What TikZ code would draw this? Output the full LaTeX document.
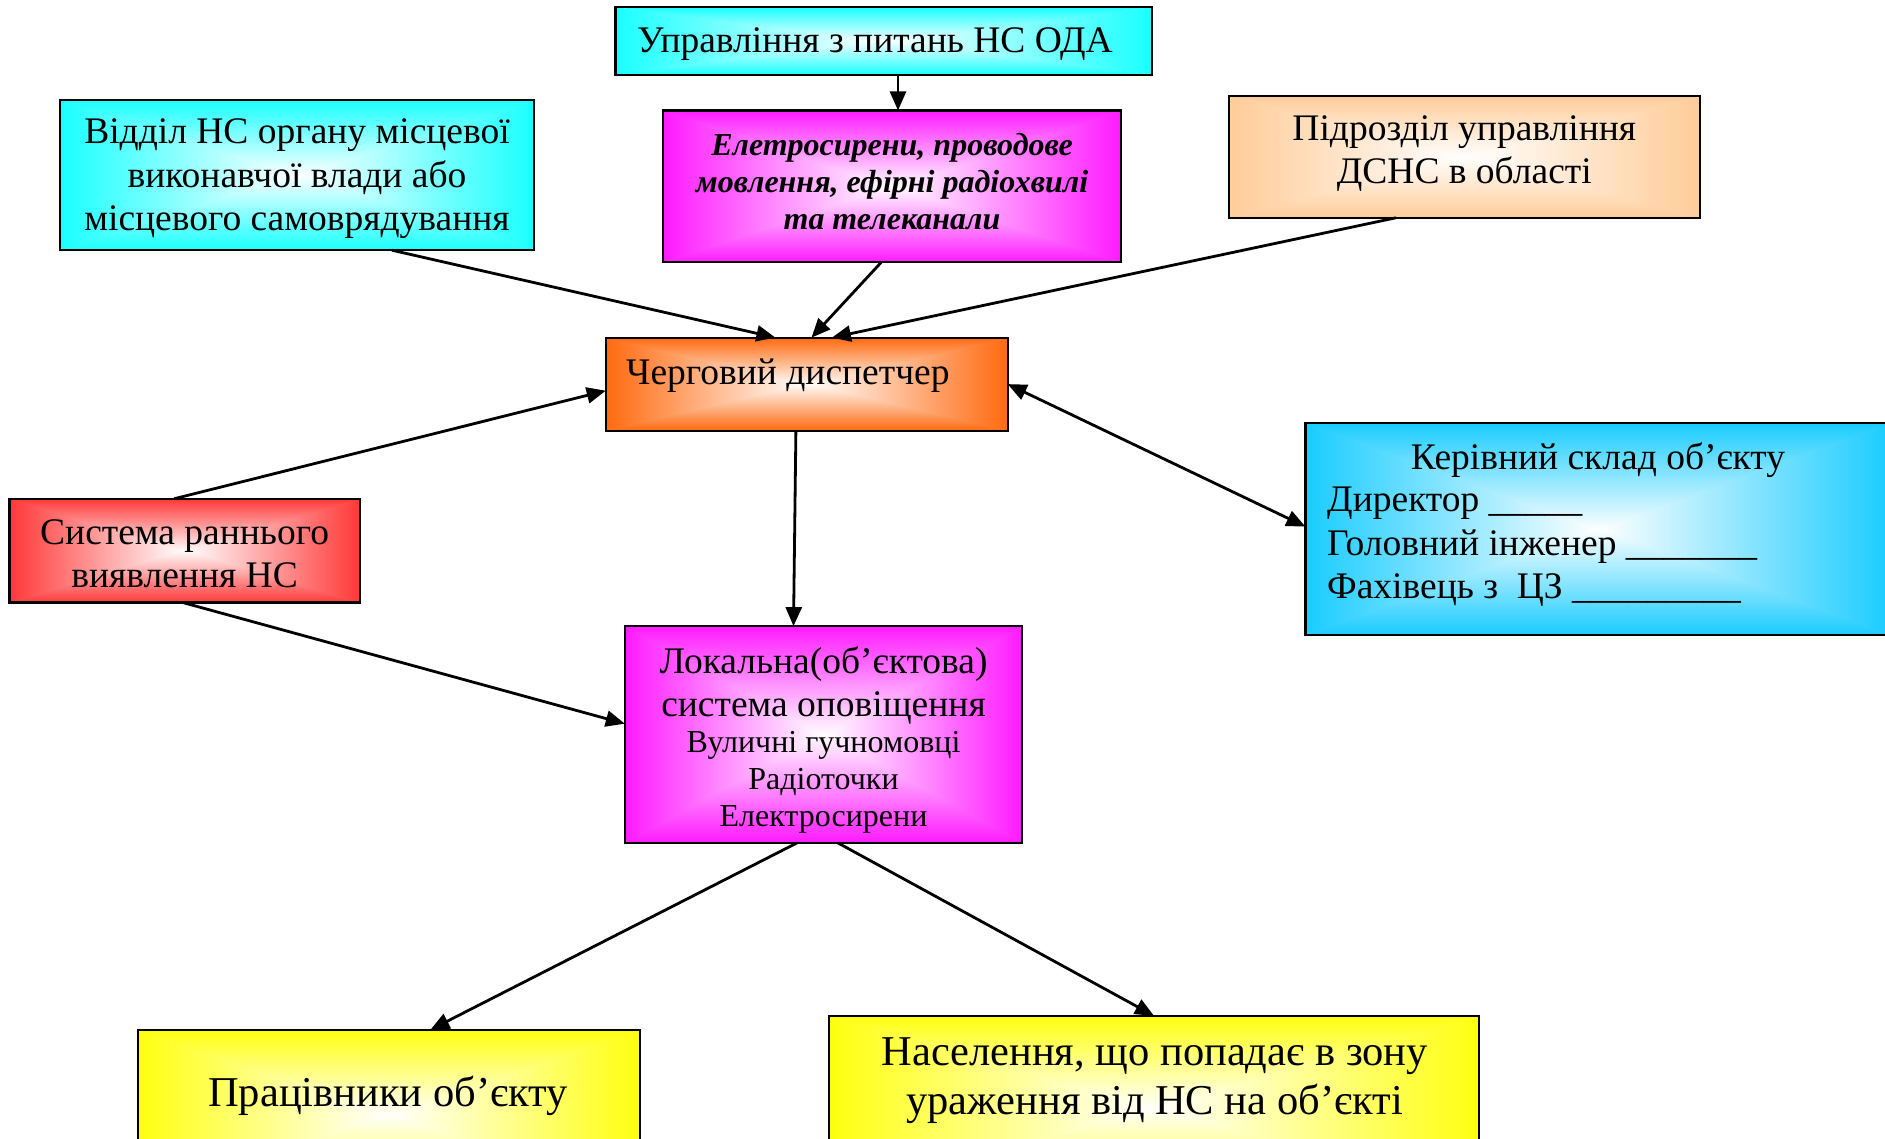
\documentclass[tikz,border=0pt]{standalone}
\usepackage{fontspec}
\setmainfont{Liberation Serif}
\usetikzlibrary{arrows.meta,calc}
\definecolor{cCyan}{HTML}{1AFFFF}
\definecolor{cMag}{HTML}{FF1AFF}
\definecolor{cPeach}{HTML}{FFCC99}
\definecolor{cOrange}{HTML}{FF6A10}
\definecolor{cRed}{HTML}{FF3838}
\definecolor{cSky}{HTML}{1ACCFF}
\definecolor{cYel}{HTML}{FFFF10}
% name, x, y(down), w, h, colour
\newcommand{\rbox}[6]{%
  \node[boxshape, minimum width=#4pt, minimum height=#5pt] (#1) at (#2,-#3) {};
  \shade[left color=#6, right color=white] (#1.center) -- (#1.north west) -- (#1.south west) -- cycle;
  \shade[left color=white, right color=#6] (#1.center) -- (#1.north east) -- (#1.south east) -- cycle;
  \shade[top color=#6, bottom color=white] ([yshift=-1.5pt]#1.center) -- ([xshift=-0.8pt]#1.north west) -- ([xshift=0.8pt]#1.north east) -- cycle;
  \shade[top color=white, bottom color=#6] ([yshift=1.5pt]#1.center) -- ([xshift=-0.8pt]#1.south west) -- ([xshift=0.8pt]#1.south east) -- cycle;
  \draw[line width=2.2pt] (#1.north west) rectangle (#1.south east);
}
\tikzset{
  boxshape/.style={rectangle, inner sep=0pt},
  txt/.style={inner sep=0pt, align=center, font=\fontsize{37.5}{43.5}\selectfont},
  smalltxt/.style={inner sep=0pt, align=center, font=\fontsize{32}{37}\selectfont},
  bigtxt/.style={inner sep=0pt, align=center, font=\fontsize{42.5}{49}\selectfont},
  arr/.style={line width=2.8pt, -{Triangle[length=19pt,width=16pt]}},
  darr/.style={line width=2.8pt, {Triangle[length=19pt,width=16pt]}-{Triangle[length=19pt,width=16pt]}},
}
\begin{document}
\begin{tikzpicture}[x=1pt,y=1pt]
\useasboundingbox (0,0) rectangle (1885,-1138);
\clip (0,0) rectangle (1885,-1138);
% boxes
\rbox{upr}{883.6}{40.9}{536}{67}{cCyan}
\rbox{siren}{892}{186.4}{457}{151.5}{cMag}
\rbox{vid}{297}{175}{474}{150}{cCyan}
\rbox{pidr}{1464.3}{156.9}{471}{121.4}{cPeach}
\rbox{cherg}{806.7}{384.1}{401.5}{92.6}{cOrange}
\rbox{ker}{1597.8}{529}{584.4}{211.6}{cSky}
\rbox{sys}{184.6}{550.6}{350}{103.4}{cRed}
\rbox{lok}{823.5}{734.5}{397}{216.4}{cMag}
\rbox{prac}{389}{1115}{501}{170}{cYel}
\rbox{nas}{1154}{1108}{649}{184}{cYel}
% texts
\node[txt] (uprT) at (875,-44.4) {Управління з питань НС ОДА};
\node[smalltxt, font=\fontsize{32}{37}\selectfont\bfseries\itshape] (sirenT) at (892,-181.5) {Елетросирени, проводове\\мовлення, ефірні радіохвилі\\та телеканали};
\node[txt] (vidT) at (297,-179) {Відділ НС органу місцевої\\виконавчої влади або\\місцевого самоврядування};
\node[txt] (pidrT) at (1464.3,-153.5) {Підрозділ управління\\ДСНС в області};
\node[txt, anchor=west] (chergT) at (626,-375.5) {Черговий диспетчер};
\node[txt] (kerT) at (1598,-460.3) {Керівний склад об’єкту};
\node[txt, anchor=west, align=left] (kerL) at (1327,-546.9) {Директор \_\_\_\_\_\\Головний інженер \_\_\_\_\_\_\_\\Фахівець з\ \ ЦЗ \_\_\_\_\_\_\_\_\_};
\node[txt] (sysT) at (184.6,-554) {Система раннього\\виявлення НС};
\node[txt] (lokT1) at (823.5,-685.5) {Локальна(об’єктова)\\система оповіщення};
\node[smalltxt] (lokT2) at (823.5,-782.5) {Вуличні гучномовці\\Радіоточки\\Електросирени};
\node[bigtxt] (pracT) at (388,-1095.5) {Працівники об’єкту};
\node[bigtxt] (nasT) at (1154.7,-1081) {Населення, що попадає в зону\\ураження від НС на об’єкті};
% connectors
\draw[arr] ([xshift=14.4pt]upr.south) -- ([xshift=6pt]siren.north);
\draw[arr] ([xshift=94.9pt]vid.south) -- ([xshift=-31.3pt]cherg.north);
\draw[arr] ([xshift=-10.8pt]siren.south) -- ([xshift=4.8pt]cherg.north);
\draw[arr] ([xshift=-68.5pt]pidr.south) -- ([xshift=25.2pt]cherg.north);
\draw[arr] ([xshift=-10.3pt]sys.north) -- ([yshift=-6.6pt]cherg.west);
\draw[darr] (cherg.east) -- ([yshift=2.4pt]ker.west);
\draw[arr] ([xshift=-10.8pt]cherg.south) -- ([xshift=-30pt]lok.north);
\draw[arr] ([xshift=-1.9pt]sys.south) -- ([yshift=10.8pt]lok.west);
\draw[arr] ([xshift=-26.5pt]lok.south) -- ([xshift=41.4pt]prac.north);
\draw[arr] ([xshift=14.4pt]lok.south) -- (nas.north);
\end{tikzpicture}
\end{document}
